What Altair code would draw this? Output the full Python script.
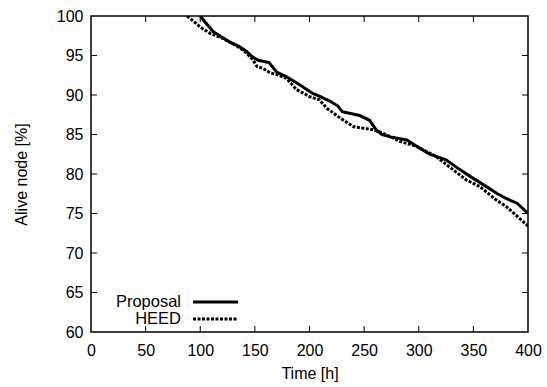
import altair as alt
import pandas as pd

# Data
proposal_t = [100, 104, 112, 120, 127, 135, 142.5, 148, 153, 163, 170, 179, 191, 203, 210, 219, 226, 230, 246, 255, 261, 266, 274, 289, 304, 310, 325, 334, 347, 362, 372, 380, 390, 400]
proposal_v = [100, 99.3, 98.0, 97.3, 96.7, 96.2, 95.5, 94.8, 94.4, 94.1, 92.9, 92.3, 91.3, 90.2, 89.8, 89.2, 88.6, 87.9, 87.4, 86.8, 85.6, 85.0, 84.7, 84.3, 83.0, 82.5, 81.8, 80.9, 79.7, 78.4, 77.5, 76.9, 76.3, 75.0]

heed_t = [88, 95, 100, 109, 120, 130, 140, 148, 152, 157, 164, 170, 179, 188, 200, 209, 216, 228, 240, 258, 267, 283, 298, 316, 328, 344, 356, 371, 380, 392, 400]
heed_v = [100, 99.2, 98.6, 97.8, 97.2, 96.5, 95.6, 94.5, 93.6, 93.4, 92.8, 92.6, 92.1, 90.7, 89.8, 89.4, 88.3, 87.1, 86.0, 85.6, 85.2, 84.1, 83.5, 82.2, 80.9, 79.2, 78.4, 76.7, 75.9, 74.4, 73.4]

series_names = ["Proposal", "HEED"]
x_ticks = [0, 50, 100, 150, 200, 250, 300, 350, 400]
y_ticks = [60, 65, 70, 75, 80, 85, 90, 95, 100]

W, H = 437, 316
FONT = "Liberation Sans"

prop_df = pd.DataFrame({"t": proposal_t, "v": proposal_v})
heed_df = pd.DataFrame({"t": heed_t, "v": heed_v})

xs = alt.Scale(domain=[0, 400], nice=False)
ys = alt.Scale(domain=[60, 100], nice=False)

ax_style = dict(
    labelFont=FONT, titleFont=FONT, labelFontSize=16, titleFontSize=16,
    labelColor="black", titleColor="black", titleFontWeight="normal",
    ticks=False, domain=False, grid=False, labelFlush=False,
)
X = alt.X("t:Q", scale=xs, axis=alt.Axis(values=x_ticks, title="Time [h]", labelPadding=10,
                                         titlePadding=7, **ax_style))
Y = alt.Y("v:Q", scale=ys, axis=alt.Axis(values=y_ticks, title="Alive node [%]", labelPadding=8,
                                         titlePadding=27, **ax_style))

prop_line = alt.Chart(prop_df).mark_line(color="black", strokeWidth=3, clip=True).encode(x=X, y=Y)
heed_line = alt.Chart(heed_df).mark_line(color="black", strokeWidth=3, strokeDash=[3, 1.5], clip=True).encode(x=X, y=Y)

xt_df = pd.DataFrame({"t": x_ticks[1:-1]})
yt_df = pd.DataFrame({"v": y_ticks[1:-1]})
tick_len = 6
xt_bottom = alt.Chart(xt_df).mark_rule(color="black", strokeWidth=1).encode(
    x=X, y=alt.value(H), y2=alt.value(H - tick_len))
xt_top = alt.Chart(xt_df).mark_rule(color="black", strokeWidth=1).encode(
    x=X, y=alt.value(0), y2=alt.value(tick_len))
yt_left = alt.Chart(yt_df).mark_rule(color="black", strokeWidth=1).encode(
    y=Y, x=alt.value(0), x2=alt.value(tick_len))
yt_right = alt.Chart(yt_df).mark_rule(color="black", strokeWidth=1).encode(
    y=Y, x=alt.value(W), x2=alt.value(W - tick_len))

# Manual gnuplot-style legend (label left, sample right)
leg_df = pd.DataFrame({"name": series_names})
leg_rows = [286, 303]
legend_layers = []
for i, name in enumerate(series_names):
    d = leg_df[leg_df.name == name]
    legend_layers.append(
        alt.Chart(d).mark_text(align="right", baseline="middle", font=FONT, fontSize=16.5, color="black").encode(
            text="name:N", x=alt.value(90), y=alt.value(leg_rows[i])))
    mk = dict(color="black", strokeWidth=3)
    if name == "HEED":
        mk["strokeDash"] = [3, 1.5]
    legend_layers.append(
        alt.Chart(d).mark_rule(**mk).encode(x=alt.value(102), x2=alt.value(147), y=alt.value(leg_rows[i])))

chart = alt.layer(
    prop_line, heed_line, xt_bottom, xt_top, yt_left, yt_right, *legend_layers
).properties(
    width=W, height=H,
    background="white",
    autosize=alt.AutoSizeParams(type="none"),
    padding={"left": 91, "top": 16, "right": 19, "bottom": 55},
).configure_view(stroke="black", strokeWidth=1.5)

chart.save("out.html", embed_options={"renderer": "svg", "actions": False})
